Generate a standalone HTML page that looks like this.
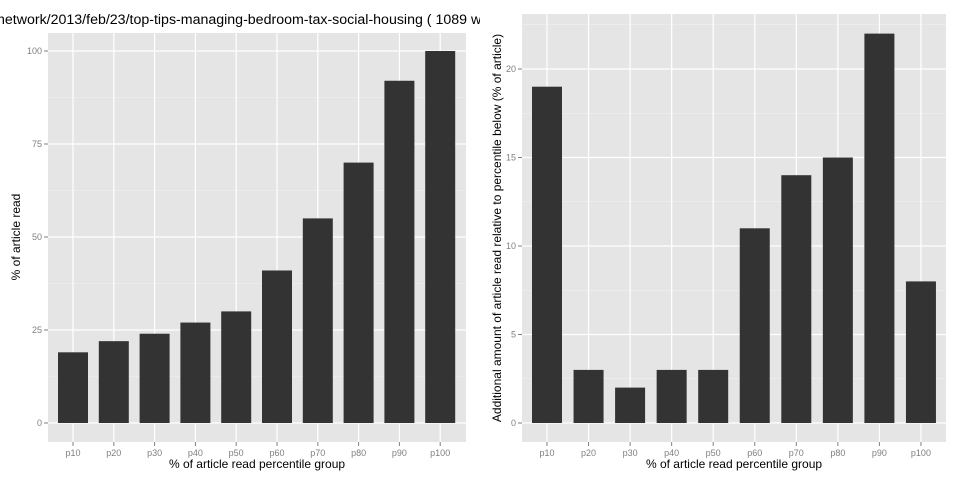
<!DOCTYPE html>
<html><head><meta charset="utf-8"><style>
body{margin:0;background:#fff;}
svg{display:block;font-family:"Liberation Sans",sans-serif;}
</style></head><body>
<svg id="chart" width="960" height="480"></svg>
<script>
const categories=["p10","p20","p30","p40","p50","p60","p70","p80","p90","p100"];
const cumulativeValues=[19,22,24,27,30,41,55,70,92,100];
const incrementValues=[19,3,2,3,3,11,14,15,22,8];
const leftTicks=[0,25,50,75,100];
const rightTicks=[0,5,10,15,20];
const NS="http://www.w3.org/2000/svg";
const svg=document.getElementById('chart');
function mk(tag,attrs,parent){const e=document.createElementNS(NS,tag);for(const k in attrs)e.setAttribute(k,attrs[k]);(parent||svg).appendChild(e);return e;}
const defs=mk('defs',{});
const cp=mk('clipPath',{id:'lc'},defs);mk('rect',{x:0,y:0,width:480,height:480},cp);

function panel(opt){
  const g=mk('g',{'clip-path':opt.clip||''});
  
  
  const {x0,x1,y0,y1,zeroY,unit,step,ticks,minor,values,cx0}=opt;
  const ys=v=>zeroY-v*unit;
  const xs=i=>cx0+i*step;
  const bg=mk('rect',{x:x0,y:y0,width:x1-x0,height:y1-y0,fill:'#e5e5e5'},g);
  
  
  minor.forEach(v=>{const y=ys(v);if(y>y0&&y<y1)mk('line',{x1:x0,x2:x1,y1:y,y2:y,stroke:'#f2f2f2','stroke-width':0.6},g);});
  ticks.forEach(v=>{const y=ys(v);mk('line',{x1:x0,x2:x1,y1:y,y2:y,stroke:'#fff','stroke-width':1.2},g);
    mk('line',{x1:x0-4,x2:x0,y1:y,y2:y,stroke:'#7f7f7f'},g);
    const t=mk('text',{x:x0-6,y:y+3,'text-anchor':'end','font-size':9,fill:'#7f7f7f'},g);t.textContent=v;
    
    });
  categories.forEach((c,i)=>{const x=xs(i);mk('line',{x1:x,x2:x,y1:y0,y2:y1,stroke:'#fff','stroke-width':1.2},g);
    mk('line',{x1:x,x2:x,y1:y1,y2:y1+4,stroke:'#7f7f7f'},g);
    const t=mk('text',{x:x,y:y1+14,'text-anchor':'middle','font-size':9,fill:'#7f7f7f'},g);t.textContent=c;
    
    });
  values.forEach((v,i)=>{const b=mk('rect',{x:xs(i)-15,y:ys(v),width:30,height:v*unit,fill:'#333'},g);
    
    });
  const xt=mk('text',{x:(x0+x1)/2,y:468,'text-anchor':'middle','font-size':12,fill:'#000'},g);xt.textContent='% of article read percentile group';
  
  
  const yt=mk('text',{transform:`translate(${opt.ytx},${opt.yty}) rotate(-90)`,'text-anchor':'middle','font-size':12,fill:'#000'},g);yt.textContent=opt.ytitle;
  
  
  return g;
}
const lg=panel({name:'left-panel',clip:'url(#lc)',x0:48,x1:466,y0:33,y1:442,zeroY:423,unit:3.72,cx0:73,step:40.8,ticks:leftTicks,minor:[12.5,37.5,62.5,87.5,112.5],values:cumulativeValues,ytitle:'% of article read',ytx:20,yty:237});
const title=mk('text',{x:-3,y:24,'font-size':14.2,fill:'#000'},lg);
title.textContent='network/2013/feb/23/top-tips-managing-bedroom-tax-social-housing ( 1089 words )';


panel({name:'right-panel',x0:522,x1:946,y0:14,y1:442,zeroY:423,unit:17.7,cx0:547,step:41.55,ticks:rightTicks,minor:[2.5,7.5,12.5,17.5,22.5],values:incrementValues,ytitle:'Additional amount of article read relative to percentile below (% of article)',ytx:501,yty:228});
</script>
</body></html>
